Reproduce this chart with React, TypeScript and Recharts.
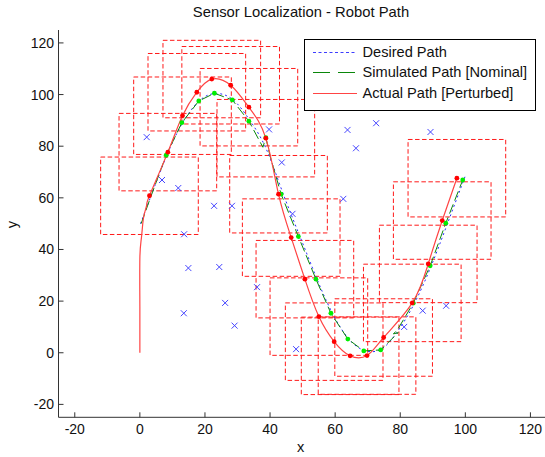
import React from "react";
import { ComposedChart, Line, Scatter, XAxis, YAxis, ReferenceArea, Legend, Label } from "recharts";

const FONT = '"Liberation Sans", Arial, sans-serif';

// axis ticks (both axes)
const axisTicks = [-20, 0, 20, 40, 60, 80, 100, 120];

// desired path (blue dotted)
const desiredPath = [
  { x: 0.2, y: 50 }, { x: 3.5, y: 61 }, { x: 8.3, y: 76.5 }, { x: 13.1, y: 89 },
  { x: 18.2, y: 97.5 }, { x: 23.2, y: 100.4 }, { x: 28.6, y: 98 }, { x: 33.8, y: 90 },
  { x: 38.8, y: 79 }, { x: 43.9, y: 62 }, { x: 49.2, y: 45 }, { x: 54.5, y: 28.3 },
  { x: 59.2, y: 15.2 }, { x: 64.2, y: 5.3 }, { x: 69.2, y: 0.8 }, { x: 74.3, y: 1.5 },
  { x: 79.2, y: 8.3 }, { x: 84.3, y: 19 }, { x: 89.5, y: 33.6 }, { x: 94.5, y: 50 },
  { x: 99.9, y: 68.2 },
];

// simulated path (nominal) - line and markers
const nominalPath = [
  { x: 0.4, y: 50 }, { x: 3.4, y: 60.6 }, { x: 8.1, y: 76.5 }, { x: 12.9, y: 89.1 },
  { x: 18.1, y: 97.5 }, { x: 22.9, y: 100.5 }, { x: 28.4, y: 97.9 }, { x: 33.5, y: 89.7 },
  { x: 37.8, y: 79.6 }, { x: 38.7, y: 83.3 }, { x: 40, y: 76.2 }, { x: 43.4, y: 61.4 },
  { x: 48.7, y: 45 }, { x: 54.1, y: 28.5 }, { x: 58.7, y: 15.3 }, { x: 63.9, y: 5.3 },
  { x: 68.8, y: 0.7 }, { x: 74, y: 1.1 }, { x: 79.4, y: 7.8 }, { x: 77.9, y: 7.3 },
  { x: 79.2, y: 9 }, { x: 84, y: 19.2 }, { x: 89.2, y: 33.7 }, { x: 94, y: 50.2 },
  { x: 99.2, y: 66.9 },
];
const nominalMarks = [
  { x: 8.1, y: 76.5 }, { x: 12.9, y: 89.1 }, { x: 18.1, y: 97.5 }, { x: 22.9, y: 100.5 },
  { x: 28.4, y: 97.9 }, { x: 33.5, y: 89.7 }, { x: 38.7, y: 83.3 }, { x: 43.4, y: 61.4 },
  { x: 48.7, y: 45 }, { x: 54.1, y: 28.5 }, { x: 58.7, y: 15.3 }, { x: 63.9, y: 5.3 },
  { x: 68.8, y: 0.7 }, { x: 74, y: 1.1 }, { x: 84, y: 19.2 }, { x: 89.2, y: 33.7 },
  { x: 94, y: 50.2 }, { x: 99.2, y: 66.9 },
];

// actual path (perturbed) - start from origin, then through markers
const actualStart = [
  { x: 0, y: 0 }, { x: 0, y: 18 }, { x: 0, y: 36.6 }, { x: 0.4, y: 43.7 },
  { x: 0.8, y: 48.8 }, { x: 1.3, y: 53.4 }, { x: 2.1, y: 57.2 },
];
const actualMarks = [
  { x: 2.95, y: 60.8 }, { x: 8.6, y: 77.7 }, { x: 13.1, y: 91.8 }, { x: 17.5, y: 100.9 },
  { x: 22.1, y: 106 }, { x: 27.9, y: 103.6 }, { x: 33.5, y: 95.1 }, { x: 38.7, y: 83.1 },
  { x: 42.6, y: 61.4 }, { x: 46.5, y: 44.6 }, { x: 50.7, y: 28.5 }, { x: 55, y: 14 },
  { x: 59.7, y: 4.3 }, { x: 64.6, y: -1.2 }, { x: 69.8, y: -1.1 }, { x: 74.9, y: 5.9 },
  { x: 83.7, y: 19.3 }, { x: 88.6, y: 34.4 }, { x: 92.9, y: 51.2 }, { x: 97.4, y: 67.6 },
];
const actualPath = [...actualStart, ...actualMarks];

// sensor positions (blue x)
const sensors = [
  { x: 2.1, y: 83.5 }, { x: 6.8, y: 66.9 }, { x: 11.8, y: 63.8 }, { x: 22.8, y: 56.9 },
  { x: 28.3, y: 56.9 }, { x: 13.6, y: 45.9 }, { x: 14.9, y: 32.8 }, { x: 24.4, y: 33.2 },
  { x: 36, y: 25.4 }, { x: 26.2, y: 19.3 }, { x: 13.5, y: 15.3 }, { x: 29.1, y: 10.5 },
  { x: 39.7, y: 86.5 }, { x: 43.6, y: 73.7 }, { x: 46.9, y: 53.8 }, { x: 62.5, y: 59.6 },
  { x: 63.8, y: 86.3 }, { x: 72.6, y: 88.9 }, { x: 66.4, y: 79.2 }, { x: 89.3, y: 85.5 },
  { x: 48, y: 1.4 }, { x: 86.9, y: 16.3 }, { x: 94.1, y: 18.2 }, { x: 81.2, y: 10 },
];

// half side of the sensing box around each actual position
const BOX_HALF = 15;

const legendItems = [
  { name: "Desired Path", color: "#3d3dff", dash: "3 2.5" },
  { name: "Simulated Path [Nominal]", color: "#0a870a", dash: "17 8" },
  { name: "Actual Path [Perturbed]", color: "#ff4444", dash: undefined },
];

const Cross = (p: any) => (
  <path
    d={`M${p.cx - 3},${p.cy - 3}L${p.cx + 3},${p.cy + 3}M${p.cx - 3},${p.cy + 3}L${p.cx + 3},${p.cy - 3}`}
    stroke="#4646ff"
    strokeWidth={1}
    fill="none"
  />
);

const makeDot = (color: string) => (p: any) => <circle cx={p.cx} cy={p.cy} r={2.4} fill={color} />;

const renderLegend = () => (
  <div
    style={{
      width: 232,
      height: 72,
      boxSizing: "border-box",
      border: "1px solid #000",
      background: "#fff",
      position: "relative",
      fontFamily: FONT,
    }}
  >
    {legendItems.map((it, i) => (
      <div
        key={it.name}
        style={{ position: "absolute", left: 7.5, top: 2.5 + i * 20.4, height: 20, display: "flex", alignItems: "center", whiteSpace: "nowrap" }}
      >
        <svg width={44} height={20} style={{ display: "block" }}>
          <line x1={0} x2={44} y1={10.5} y2={10.5} stroke={it.color} strokeDasharray={it.dash} />
        </svg>
        <span style={{ marginLeft: 6, fontSize: 14.6, color: "#111", lineHeight: "20px" }}>{it.name}</span>
      </div>
    ))}
  </div>
);

const tickStyle = { fill: "#111", fontSize: 14, fontFamily: FONT };

export default function App() {
  return (
    <div style={{ position: "absolute", left: 0, top: 0, width: 545, height: 457, overflow: "hidden", background: "#fff", fontFamily: FONT }}>
      <div style={{ position: "absolute", left: 151, top: 4, width: 300, textAlign: "center", fontSize: 14.8, lineHeight: "16px", color: "#111" }}>
        Sensor Localization - Robot Path
      </div>
      <ComposedChart width={550} height={457} margin={{ top: 30, right: 3.3, bottom: 4.7, left: 8.5 }}>
        <XAxis
          dataKey="x"
          type="number"
          domain={[-25, 125]}
          ticks={axisTicks}
          interval={0}
          allowDataOverflow
          height={35}
          tickSize={-5}
          tickMargin={11.7}
          stroke="#333"
          tick={tickStyle}
        >
          <Label
            content={(props: any) => {
              const vb = props.viewBox;
              return (
                <text x={vb.x + vb.width / 2 - 2} y={vb.y + 34.5} textAnchor="middle" fontSize={14.6} fontFamily={FONT} fill="#111">
                  x
                </text>
              );
            }}
          />
        </XAxis>
        <YAxis
          dataKey="y"
          type="number"
          domain={[-25, 125]}
          ticks={axisTicks}
          interval={0}
          allowDataOverflow
          width={50}
          tickSize={-5}
          tickMargin={9.5}
          stroke="#333"
          tick={tickStyle}
        >
          <Label
            content={(props: any) => {
              const vb = props.viewBox;
              const cx = vb.x + 9;
              const cy = vb.y + vb.height / 2 + 1;
              return (
                <text x={cx} y={cy} transform={`rotate(-90 ${cx} ${cy})`} textAnchor="middle" fontSize={14.6} fontFamily={FONT} fill="#111">
                  y
                </text>
              );
            }}
          />
        </YAxis>
        {actualMarks.map((m, i) => (
          <ReferenceArea
            key={`box-${i}`}
            x1={m.x - BOX_HALF}
            x2={m.x + BOX_HALF}
            y1={m.y - BOX_HALF}
            y2={m.y + BOX_HALF}
            fill="none"
            stroke="#ff1a1a"
            strokeWidth={1}
            strokeDasharray="4.5 2.5"
            ifOverflow="visible"
          />
        ))}
        <Line data={desiredPath} dataKey="y" type="natural" stroke="#2a2aff" strokeWidth={1} strokeDasharray="2 3" dot={false} activeDot={false} isAnimationActive={false} />
        <Line data={nominalPath} dataKey="y" type="linear" stroke="#0a870a" strokeWidth={1} strokeDasharray="10 4" dot={false} activeDot={false} isAnimationActive={false} />
        <Line data={actualPath} dataKey="y" type="natural" stroke="#ff4444" strokeWidth={1.2} dot={false} activeDot={false} isAnimationActive={false} />
        <Scatter data={sensors} dataKey="y" shape={Cross} isAnimationActive={false} />
        <Scatter data={nominalMarks} dataKey="y" shape={makeDot("#00ee00")} isAnimationActive={false} />
        <Scatter data={actualMarks} dataKey="y" shape={makeDot("#ff0000")} isAnimationActive={false} />
        <Legend
          content={renderLegend}
          layout="horizontal"
          align="center"
          verticalAlign="middle"
          wrapperStyle={{ left: 304, top: 38.5, width: 232, height: 72 }}
        />
      </ComposedChart>
    </div>
  );
}
